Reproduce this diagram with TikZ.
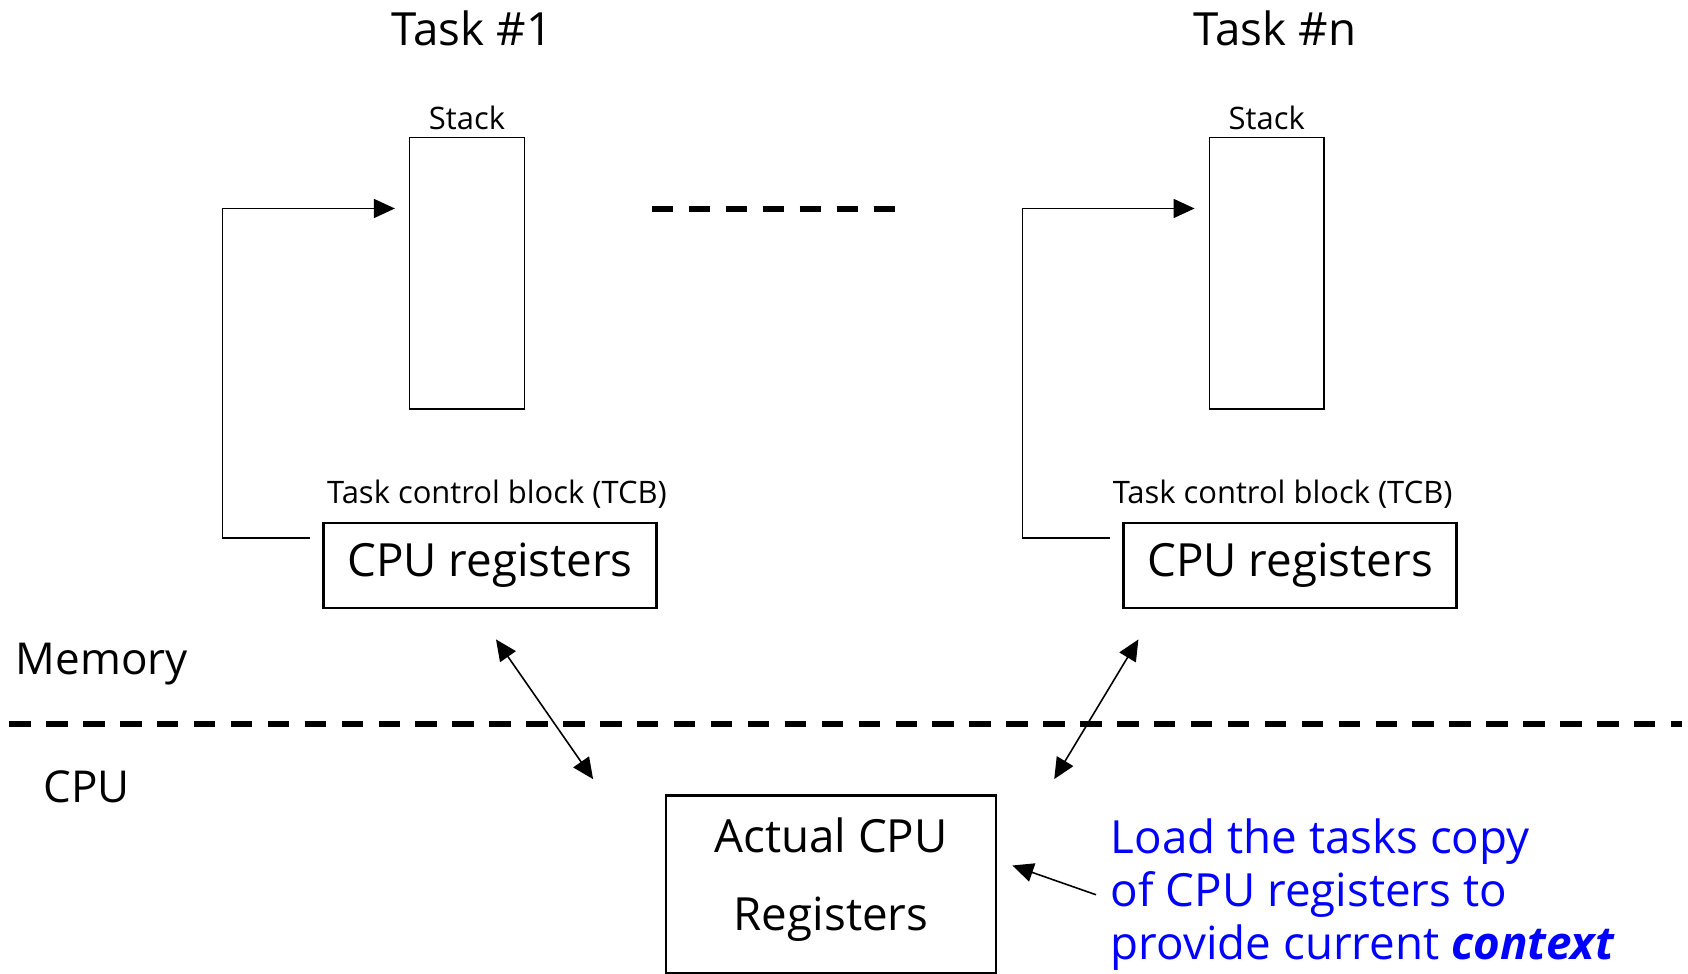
\documentclass[tikz,border=0pt]{standalone}
\usepackage{fontspec}
\setmainfont{Open Sans}
\usepackage{xcolor}
\usepackage{tikz}
\usetikzlibrary{arrows.meta,positioning,calc}

\newcommand{\bigfnt}{\fontsize{13}{15.1}\selectfont}
\newcommand{\smallfnt}{\fontsize{8.8}{10}\selectfont}

\begin{document}
\begin{tikzpicture}[x=0.01cm, y=-0.01cm, >={Triangle[length=0.21cm,width=0.19cm]}, line width=0.45pt]
	\tikzstyle{stackbox}=[draw,line width=0.45pt,minimum width=1.146cm,minimum height=2.716cm,inner sep=0pt]
	\tikzstyle{regbox}=[draw,line width=0.75pt,minimum width=3.33cm,minimum height=0.85cm,inner sep=0pt,font=\bigfnt]
	\tikzstyle{divider}=[line width=1.7pt,dash pattern=on 6.1pt off 4.4pt]
	\tikzstyle{small}=[inner sep=0pt,font=\smallfnt]
	\tikzstyle{big}=[inner sep=0pt,font=\bigfnt]
	\useasboundingbox (0,0) rectangle (1688,974);

	\node[big,anchor=base] (task1) at (472,46) {Task \#1};
	\node[big,anchor=base] (taskn) at (1275,46) {Task \#n};

	\node[stackbox] (stack1) at (467,273.4) {};
	\node[stackbox] (stackn) at (1266.7,273.4) {};
	\node[small,above=1.6pt of stack1] (stacklbl1) {Stack};
	\node[small,above=1.6pt of stackn] (stacklbln) {Stack};

	\node[regbox] (reg1) at (490,565.6) {CPU registers};
	\node[regbox] (regn) at (1290,565.6) {CPU registers};
	\node[small,anchor=base] (tcb1) at (497,504) {Task control block (TCB)};
	\node[small,anchor=base] (tcbn) at (1282.6,504) {Task control block (TCB)};

	\coordinate (out1) at ($(reg1.west)+(-12.5,-27.8)$);
	\coordinate (in1) at ($(stack1.west)+(-14,-64.9)$);
	\coordinate (outn) at ($(regn.west)+(-12.5,-27.8)$);
	\coordinate (inn) at ($(stackn.west)+(-14,-64.9)$);
	\draw[->] (out1) -- ++(-87,0) |- (in1);
	\draw[->] (outn) -- ++(-87,0) |- (inn);

	\draw[divider] (652,208.7) -- (896,208.7);
	\draw[divider] (9.3,723.8) -- (1682,723.8);

	\node[big,font=\fontsize{12.5}{14}\selectfont,anchor=base west] (mem) at (15,675) {Memory};
	\node[big,font=\fontsize{12.5}{14}\selectfont,anchor=base west] (cpu) at (43,803) {CPU};

	\node[regbox,minimum width=3.3cm,minimum height=1.78cm,align=center,text depth=6pt] (actual) at (831,884.5) {Actual CPU\\[7pt]Registers};

	\coordinate (m1) at ($(reg1.south)+(6,30)$);
	\coordinate (c1) at ($(actual.north west)+(-71.5,-15)$);
	\coordinate (mn) at ($(regn.south)+(-151.6,30)$);
	\coordinate (cn) at ($(actual.north east)+(56.8,-15)$);
	\draw[<->] (m1) -- (c1);
	\draw[<->] (mn) -- (cn);

	\node[big,anchor=north west,text=blue,align=left] (note) at (1110,818) {Load the tasks copy\\of CPU registers to\\provide current \textbf{\textit{context}}};
	\coordinate (n0) at ($(note.west)+(-14,0)$);
	\coordinate (n1) at ($(actual.east)+(15,-19)$);
	\draw[->] (n0) -- (n1);
\end{tikzpicture}
\end{document}
